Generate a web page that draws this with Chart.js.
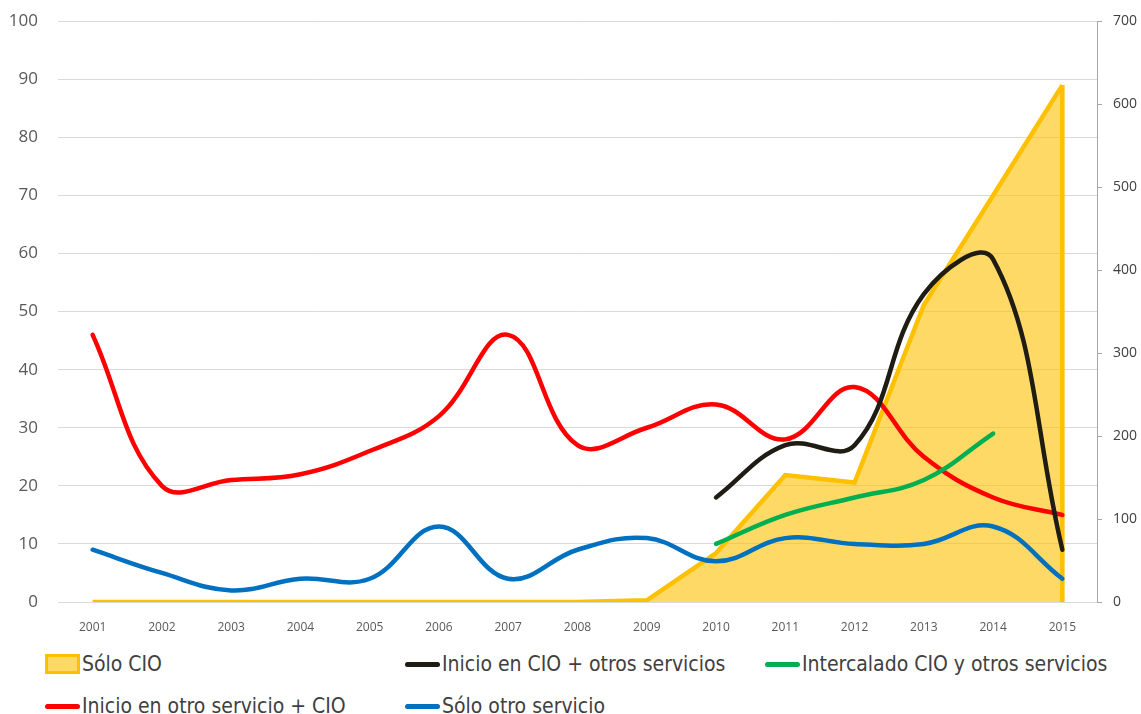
<!DOCTYPE html>
<html>
<head>
<meta charset="utf-8">
<script src="https://cdn.jsdelivr.net/npm/chart.js@4"></script>
<style>
  body { margin: 0; background: #fff; }
  #wrap { position: relative; width: 1141px; height: 714px; overflow: hidden; }
  #chart { position: absolute; left: 0; top: -9px; }
  .leg { position: absolute; font-family: "Liberation Sans Narrow", "DejaVu Sans Condensed", sans-serif; font-size: 21px; color: #404040; white-space: nowrap; display: flex; align-items: center; }
  .mk-line { display: inline-block; width: 35px; height: 5px; border-radius: 3px; margin-right: 2px; }
  .mk-box { display: inline-block; width: 29px; height: 14px; border: 3px solid #FFC000; background: #FFD966; margin-right: 2px; }
</style>
</head>
<body>
<div id="wrap">
  <canvas id="chart" width="1141" height="649"></canvas>
  <div id="legend"></div>
</div>
<script>
const years = ['2001','2002','2003','2004','2005','2006','2007','2008','2009','2010','2011','2012','2013','2014','2015'];
const soloCIO = [0, 0, 0, 0, 0, 0, 0, 0, 2, 59, 153, 144, 358, 490, 623];
const inicioCIO = [null, null, null, null, null, null, null, null, null, 18, 27, 27, 53, 59, 9];
const intercalado = [null, null, null, null, null, null, null, null, null, 10, 15, 18, 21, 29, null];
const inicioOtro = [46, 20, 21, 22, 26, 32, 46, 27, 30, 34, 28, 37, 25, 18, 15];
const soloOtro = [9, 5, 2, 4, 4, 13, 4, 9, 11, 7, 11, 10, 10, 13, 4];
const leftTicks = [0, 10, 20, 30, 40, 50, 60, 70, 80, 90, 100];
const rightTicks = [0, 100, 200, 300, 400, 500, 600, 700];

const series = [
  { label: 'Sólo CIO', data: soloCIO, color: '#FFC000', area: true },
  { label: 'Inicio en CIO + otros servicios', data: inicioCIO, color: '#1F1C13' },
  { label: 'Intercalado CIO y otros servicios', data: intercalado, color: '#00B050' },
  { label: 'Inicio en otro servicio + CIO', data: inicioOtro, color: '#FF0000' },
  { label: 'Sólo otro servicio', data: soloOtro, color: '#0070C0' }
];

const datasets = series.map(s => s.area ? {
  label: s.label, data: s.data, yAxisID: 'y2', order: 10,
  borderColor: s.color, borderWidth: 4.5, backgroundColor: 'rgba(255,192,0,0.6)',
  fill: 'origin', tension: 0, pointRadius: 0
} : {
  label: s.label, data: s.data, yAxisID: 'y', order: 0,
  borderColor: s.color, borderWidth: 4.5, fill: false,
  tension: 0.4, pointRadius: 0, borderCapStyle: 'round', spanGaps: false
});

// closes the area with its vertical right edge, as in the original
const areaEdge = {
  id: 'areaEdge',
  afterDatasetDraw(chart, args) {
    if (args.index !== 0) return;
    const meta = chart.getDatasetMeta(0);
    const last = meta.data[meta.data.length - 1];
    const ctx = chart.ctx;
    ctx.save();
    ctx.strokeStyle = '#FFC000';
    ctx.lineWidth = 4.5;
    ctx.beginPath();
    ctx.moveTo(last.x, last.y);
    ctx.lineTo(last.x, chart.scales.y2.getPixelForValue(0));
    ctx.stroke();
    ctx.restore();
  }
};

new Chart(document.getElementById('chart'), {
  type: 'line',
  data: { labels: years, datasets: datasets },
  plugins: [areaEdge],
  options: {
    responsive: false,
    animation: false,
    layout: { padding: { top: 11, left: 0, right: 0, bottom: 0 } },
    plugins: { legend: { display: false }, tooltip: { enabled: false } },
    scales: {
      x: {
        offset: true,
        grid: { display: false },
        border: { display: false },
        ticks: { color: '#595959', font: { family: 'Open Sans', size: 12 }, padding: 10, maxRotation: 0 },
        afterFit(s) { s.height = 38; }
      },
      y: {
        position: 'left', min: 0, max: 100,
        afterBuildTicks(s) { s.ticks = leftTicks.map(v => ({ value: v })); },
        grid: { color: '#D9D9D9', drawTicks: false },
        border: { display: false },
        ticks: { color: '#595959', font: { family: 'Open Sans', size: 17 }, padding: 20 },
        afterFit(s) { s.width = 58; }
      },
      y2: {
        position: 'right', min: 0, max: 700,
        afterBuildTicks(s) { s.ticks = rightTicks.map(v => ({ value: v })); },
        grid: { drawOnChartArea: false, color: '#A6A6A6', tickLength: 5 },
        border: { display: true, color: '#A6A6A6' },
        ticks: { color: '#404040', font: { family: 'Open Sans', size: 14 }, padding: 11 },
        afterFit(s) { s.width = 44; }
      }
    }
  }
});

// legend laid out in Excel-like columns
const legendPos = [[45, 664], [405, 664], [765, 664], [45, 706], [405, 706]];
const legendEl = document.getElementById('legend');
series.forEach((s, i) => {
  const d = document.createElement('div');
  d.className = 'leg';
  d.style.left = legendPos[i][0] + 'px';
  d.style.top = (legendPos[i][1] - 14) + 'px';
  d.style.height = '28px';
  const mk = document.createElement('span');
  if (s.area) { mk.className = 'mk-box'; }
  else { mk.className = 'mk-line'; mk.style.background = s.color; }
  d.appendChild(mk);
  d.appendChild(document.createTextNode(s.label));
  legendEl.appendChild(d);
});
</script>
</body>
</html>
